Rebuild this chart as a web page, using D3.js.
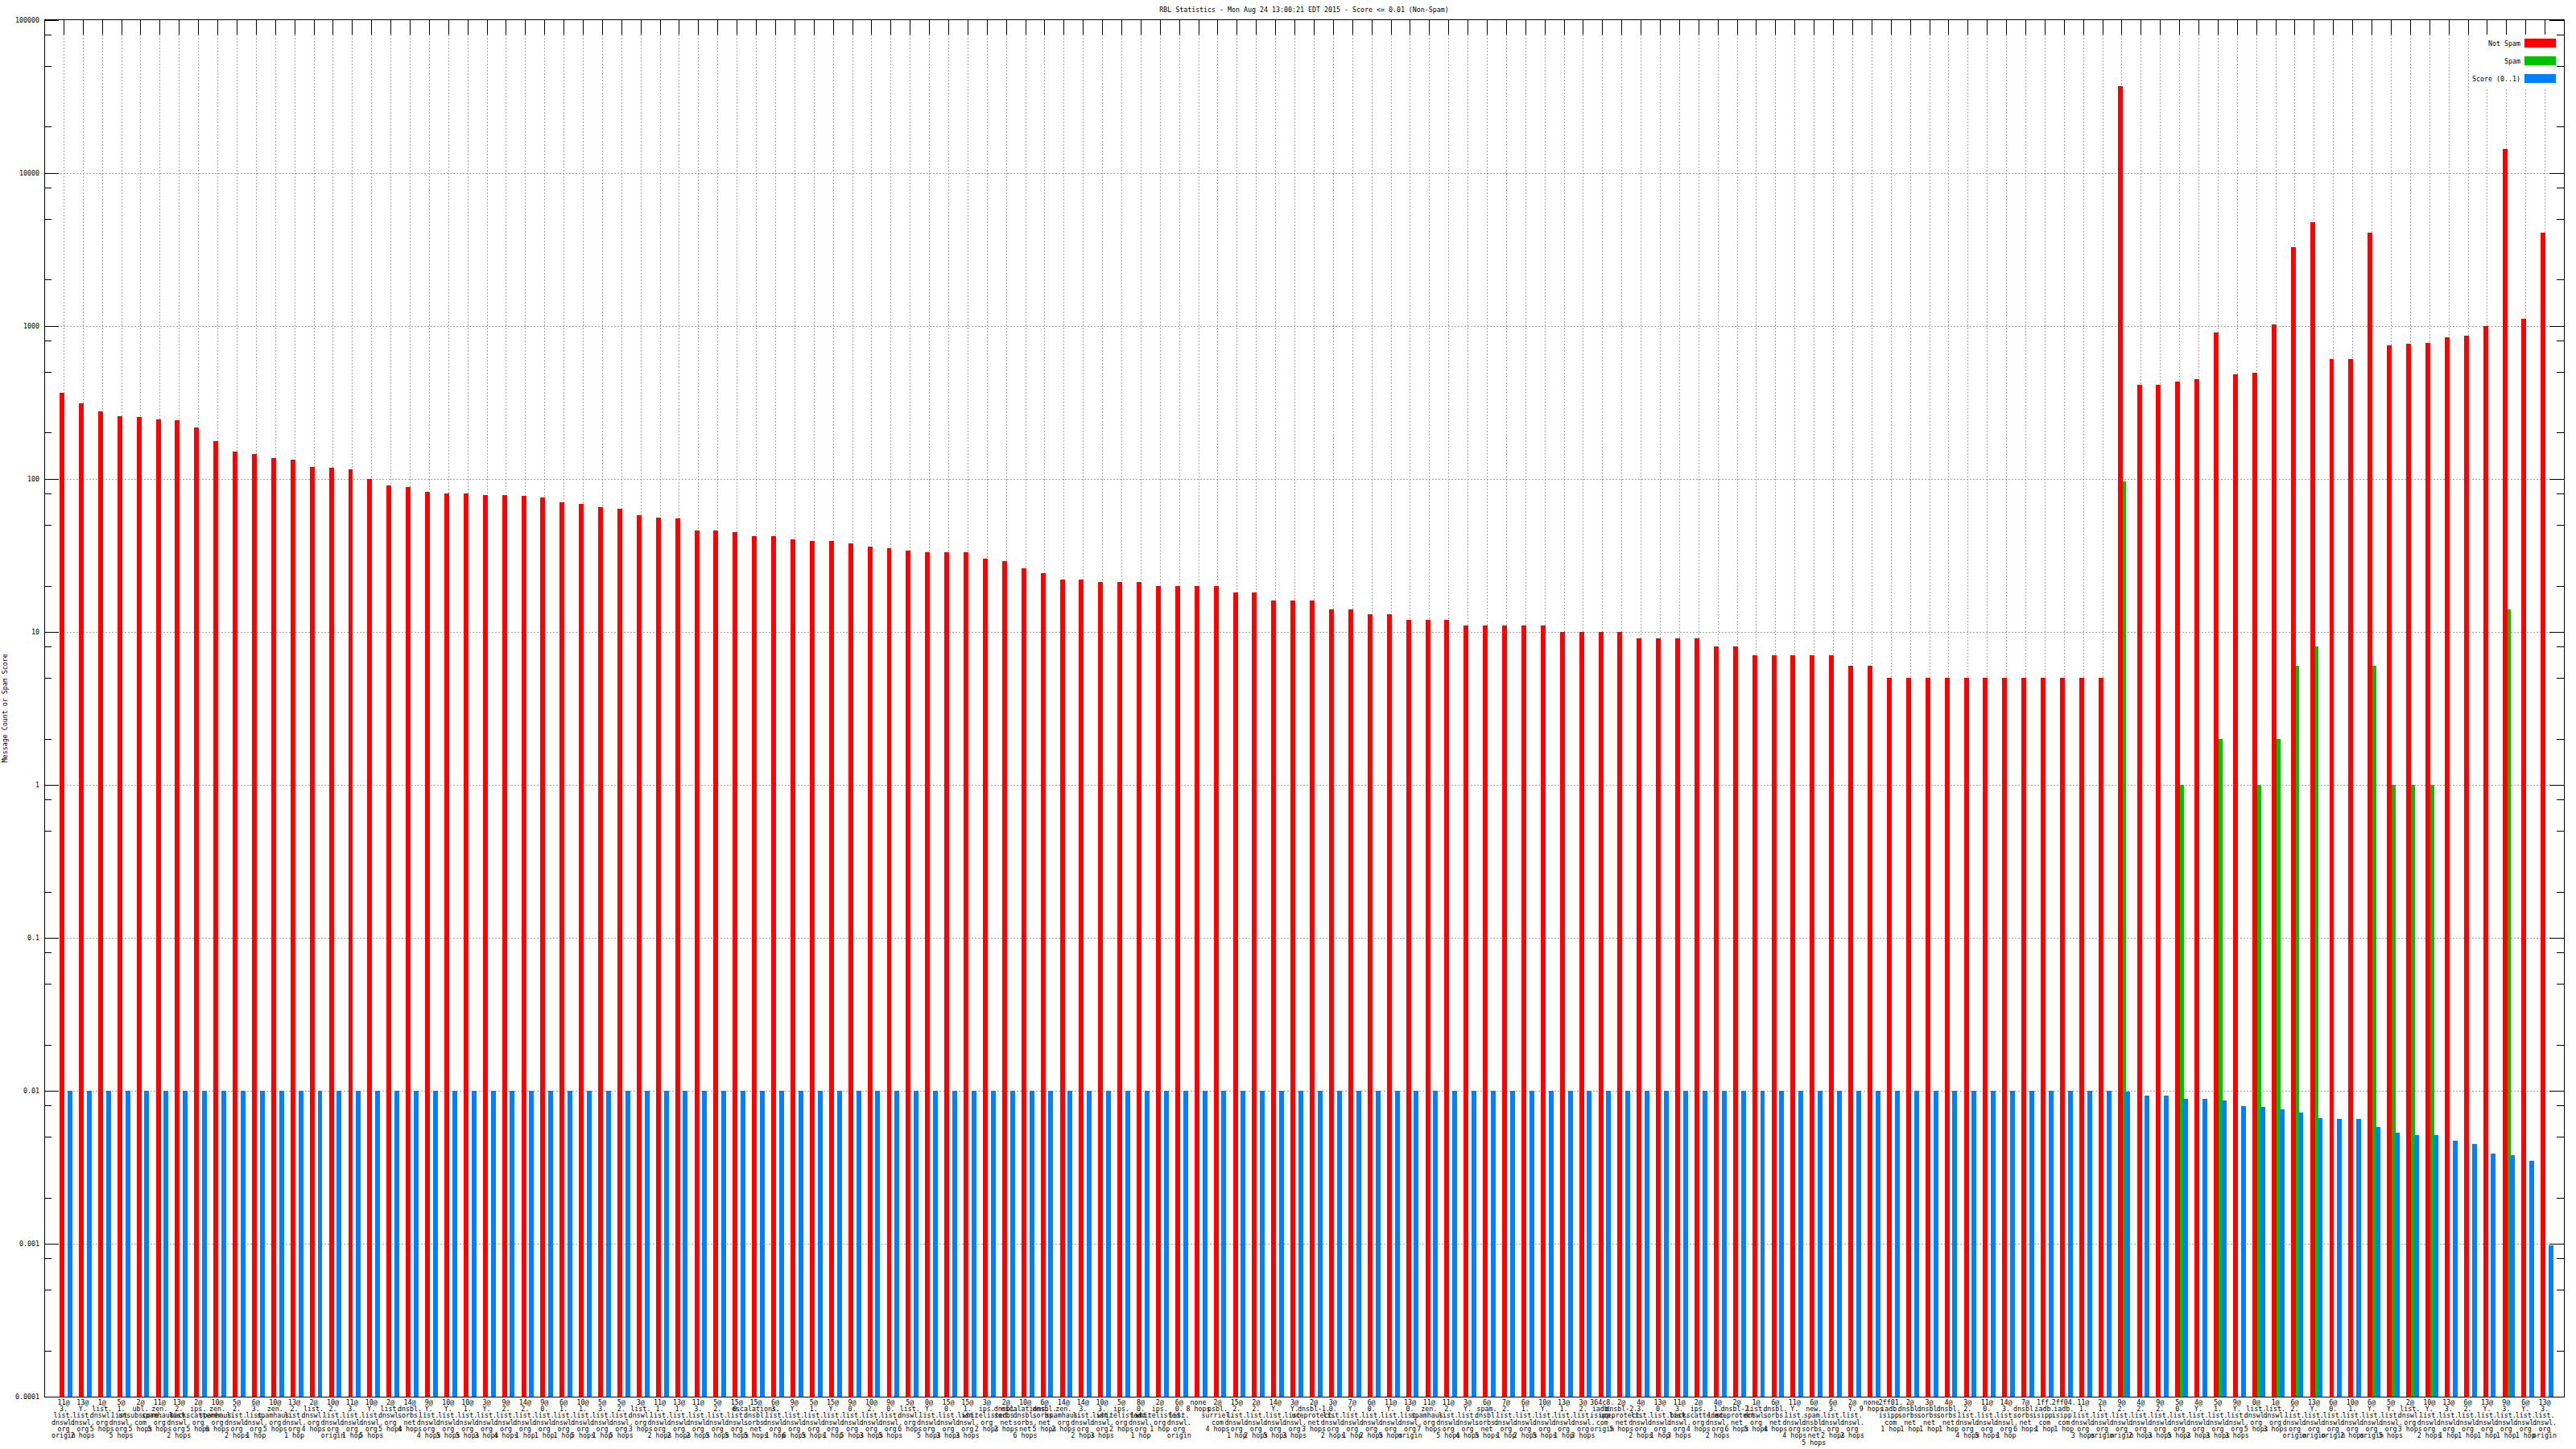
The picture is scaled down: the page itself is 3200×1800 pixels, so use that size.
<!DOCTYPE html>
<html><head><meta charset="utf-8">
<script src="https://cdn.jsdelivr.net/npm/d3@7"></script>
<style>
body{margin:0;background:#fff}
text{font-family:"DejaVu Sans Mono",monospace;font-size:8.3px;fill:#000}
</style>
</head><body><svg id="c" width="3200" height="1800"></svg>
<script>
const title = "RBL Statistics - Mon Aug 24 13:00:21 EDT 2015 - Score <= 0.01 (Non-Spam)";
const yAxisLabel = "Message Count or Spam Score";
const seriesNames = ["Not Spam", "Spam", "Score (0..1)"];
const seriesColors = ["#ff0000", "#00c000", "#0080ff"];
const yTickValues = [100000, 10000, 1000, 100, 10, 1, 0.1, 0.01, 0.001, 0.0001];
const yTickLabels = ["100000", "10000", "1000", "100", "10", "1", "0.1", "0.01", "0.001", "0.0001"];

const categories = [
"11@3.list.dnswl.org|origin","13@Y.list.dnswl.org|2 hops","1@list.dnswl.org|5 hops","5@1.list.dnswl.org|5 hops","2@ubl.unsubscore.com|5 hops",
"11@zen.spamhaus.org|5 hops","13@2.list.dnswl.org|2 hops","2@ips.backscatterer.org|5 hops","10@zen.spamhaus.org|6 hops","5@2.list.dnswl.org|2 hops",
"6@3.list.dnswl.org|1 hop","10@zen.spamhaus.org|5 hops","13@2.list.dnswl.org|1 hop","2@list.dnswl.org|4 hops","10@2.list.dnswl.org|origin",
"11@3.list.dnswl.org|1 hop","10@Y.list.dnswl.org|5 hops","2@list.dnswl.org|5 hops","14@dnsbl.sorbs.net|4 hops","9@Y.list.dnswl.org|4 hops",
"10@Y.list.dnswl.org|5 hops","10@1.list.dnswl.org|5 hops","3@Y.list.dnswl.org|3 hops","9@2.list.dnswl.org|4 hops","14@2.list.dnswl.org|1 hop",
"9@0.list.dnswl.org|1 hop","6@1.list.dnswl.org|1 hop","10@1.list.dnswl.org|5 hops","5@3.list.dnswl.org|1 hop","5@2.list.dnswl.org|5 hops",
"3@list.dnswl.org|3 hops","11@1.list.dnswl.org|2 hops","13@1.list.dnswl.org|2 hops","11@3.list.dnswl.org|2 hops","5@2.list.dnswl.org|5 hops",
"15@0.list.dnswl.org|5 hops","15@escalations.dnsbl.sorbs.net|5 hops","6@3.list.dnswl.org|1 hop","9@Y.list.dnswl.org|6 hops","5@1.list.dnswl.org|5 hops",
"15@Y.list.dnswl.org|1 hop","9@0.list.dnswl.org|5 hops","10@2.list.dnswl.org|3 hops","9@0.list.dnswl.org|5 hops","5@list.dnswl.org|6 hops",
"0@Y.list.dnswl.org|5 hops","15@0.list.dnswl.org|3 hops","15@1.list.dnswl.org|3 hops","3@ips.whitelisted.org|2 hops","2@dnsbl.sorbs.net|2 hops",
"10@escalations.dnsbl.sorbs.net|6 hops","6@dnsbl.sorbs.net|5 hops","14@zen.spamhaus.org|2 hops","14@3.list.dnswl.org|2 hops","10@3.list.dnswl.org|3 hops",
"5@ips.whitelisted.org|2 hops","8@0.list.dnswl.org|1 hop","2@ips.whitelisted.org|1 hop","6@0.list.dnswl.org|origin","none|8 hops",
"2@psbl.surriel.com|4 hops","15@2.list.dnswl.org|1 hop","2@2.list.dnswl.org|2 hops","14@Y.list.dnswl.org|5 hops","3@Y.list.dnswl.org|3 hops",
"2@dnsbl-1.uceprotect.net|3 hops","3@0.list.dnswl.org|2 hops","7@Y.list.dnswl.org|1 hop","6@0.list.dnswl.org|2 hops","11@Y.list.dnswl.org|5 hops",
"13@0.list.dnswl.org|origin","11@zen.spamhaus.org|7 hops","11@2.list.dnswl.org|5 hops","3@Y.list.dnswl.org|4 hops","6@spam.dnsbl.sorbs.net|5 hops",
"7@2.list.dnswl.org|1 hop","6@1.list.dnswl.org|2 hops","10@Y.list.dnswl.org|5 hops","13@1.list.dnswl.org|1 hop","3@2.list.dnswl.org|3 hops",
"364c8.iadb.isipp.com|origin","2@dnsbl-2.uceprotect.net|5 hops","4@3.list.dnswl.org|2 hops","13@0.list.dnswl.org|1 hop","11@3.list.dnswl.org|3 hops",
"2@ips.backscatterer.org|4 hops","4@1.list.dnswl.org|2 hops","2@dnsbl-2.uceprotect.net|6 hops","1@list.dnswl.org|5 hops","6@dnsbl.sorbs.net|4 hops",
"11@Y.list.dnswl.org|4 hops","6@new.spam.dnsbl.sorbs.net|5 hops","6@3.list.dnswl.org|2 hops","2@Y.list.dnswl.org|2 hops","none|9 hops",
"2ff01.iadb.isipp.com|1 hop","2@dnsbl.sorbs.net|1 hop","3@dnsbl.sorbs.net|1 hop","4@dnsbl.sorbs.net|1 hop","3@2.list.dnswl.org|4 hops",
"11@0.list.dnswl.org|5 hops","14@3.list.dnswl.org|1 hop","7@dnsbl.sorbs.net|6 hops","1ff.iadb.isipp.com|1 hop","2ff04.iadb.isipp.com|1 hop",
"11@1.list.dnswl.org|3 hops","2@1.list.dnswl.org|origin","9@2.list.dnswl.org|origin","4@2.list.dnswl.org|2 hops","9@2.list.dnswl.org|3 hops",
"5@0.list.dnswl.org|5 hops","4@Y.list.dnswl.org|2 hops","5@1.list.dnswl.org|3 hops","9@Y.list.dnswl.org|3 hops","0@list.dnswl.org|5 hops",
"1@list.dnswl.org|3 hops","6@2.list.dnswl.org|origin","13@Y.list.dnswl.org|origin","6@0.list.dnswl.org|origin","10@1.list.dnswl.org|2 hops",
"6@Y.list.dnswl.org|origin","5@Y.list.dnswl.org|5 hops","2@list.dnswl.org|3 hops","10@Y.list.dnswl.org|2 hops","13@3.list.dnswl.org|1 hop",
"6@2.list.dnswl.org|1 hop","13@Y.list.dnswl.org|1 hop","9@3.list.dnswl.org|1 hop","6@Y.list.dnswl.org|1 hop","13@3.list.dnswl.org|origin"
];

const notSpam = [
362, 310, 274, 255, 252, 243, 240, 215, 177, 150,
145, 136, 133, 120, 118, 115, 100, 90, 88, 82,
80, 80, 78, 78, 77, 75, 70, 68, 65, 64,
58, 56, 55, 46, 46, 45, 42, 42, 40, 39,
39, 38, 36, 35, 34, 33, 33, 33, 30, 29,
26, 24, 22, 22, 21, 21, 21, 20, 20, 20,
20, 18, 18, 16, 16, 16, 14, 14, 13, 13,
12, 12, 12, 11, 11, 11, 11, 11, 10, 10,
10, 10, 9, 9, 9, 9, 8, 8, 7, 7,
7, 7, 7, 6, 6, 5, 5, 5, 5, 5,
5, 5, 5, 5, 5, 5, 5, 37000, 413, 413,
434, 445, 904, 479, 491, 1020, 3265, 4750, 606, 606,
4060, 745, 763, 773, 841, 861, 1000, 14300, 1110, 4060
];

const spam = [
0, 0, 0, 0, 0, 0, 0, 0, 0, 0,
0, 0, 0, 0, 0, 0, 0, 0, 0, 0,
0, 0, 0, 0, 0, 0, 0, 0, 0, 0,
0, 0, 0, 0, 0, 0, 0, 0, 0, 0,
0, 0, 0, 0, 0, 0, 0, 0, 0, 0,
0, 0, 0, 0, 0, 0, 0, 0, 0, 0,
0, 0, 0, 0, 0, 0, 0, 0, 0, 0,
0, 0, 0, 0, 0, 0, 0, 0, 0, 0,
0, 0, 0, 0, 0, 0, 0, 0, 0, 0,
0, 0, 0, 0, 0, 0, 0, 0, 0, 0,
0, 0, 0, 0, 0, 0, 0, 96, 0, 0,
1, 0, 2, 0, 1, 2, 6, 8, 0, 0,
6, 1, 1, 1, 0, 0, 0, 14, 0, 0
];

const score = [
0.01, 0.01, 0.01, 0.01, 0.01, 0.01, 0.01, 0.01, 0.01, 0.01,
0.01, 0.01, 0.01, 0.01, 0.01, 0.01, 0.01, 0.01, 0.01, 0.01,
0.01, 0.01, 0.01, 0.01, 0.01, 0.01, 0.01, 0.01, 0.01, 0.01,
0.01, 0.01, 0.01, 0.01, 0.01, 0.01, 0.01, 0.01, 0.01, 0.01,
0.01, 0.01, 0.01, 0.01, 0.01, 0.01, 0.01, 0.01, 0.01, 0.01,
0.01, 0.01, 0.01, 0.01, 0.01, 0.01, 0.01, 0.01, 0.01, 0.01,
0.01, 0.01, 0.01, 0.01, 0.01, 0.01, 0.01, 0.01, 0.01, 0.01,
0.01, 0.01, 0.01, 0.01, 0.01, 0.01, 0.01, 0.01, 0.01, 0.01,
0.01, 0.01, 0.01, 0.01, 0.01, 0.01, 0.01, 0.01, 0.01, 0.01,
0.01, 0.01, 0.01, 0.01, 0.01, 0.01, 0.01, 0.01, 0.01, 0.01,
0.01, 0.01, 0.01, 0.01, 0.01, 0.01, 0.01, 0.0099, 0.0093, 0.0093,
0.0089, 0.0089, 0.0086, 0.0079, 0.0078, 0.0076, 0.0072, 0.0066, 0.0065, 0.0065,
0.0058, 0.0053, 0.0051, 0.0051, 0.0047, 0.0045, 0.0039, 0.0038, 0.0035, 0.00098
];

// ---------- drawing ----------
const W = 3200, H = 1800;
const L = 55, R = 3185, T = 24.5, B = 1735;
const svg = d3.select("#c");
svg.append("rect").attr("width", W).attr("height", H).attr("fill", "#fff");

const n = categories.length;
const x = d3.scaleLinear().domain([-1, n]).range([L, R]);
const y = d3.scaleLog().domain([0.0001, 100000]).range([B, T]);

const grid = svg.append("g").attr("stroke", "#a0a0a0").attr("stroke-width", 1)
  .attr("stroke-dasharray", "2,2").attr("shape-rendering", "crispEdges");
yTickValues.slice(1, -1).forEach(v => {
  grid.append("line").attr("x1", L).attr("x2", R).attr("y1", Math.round(y(v)) + 0.5).attr("y2", Math.round(y(v)) + 0.5);
});
d3.range(n).forEach(i => {
  const xx = Math.round(x(i)) + 0.5;
  grid.append("line").attr("x1", xx).attr("x2", xx).attr("y1", T + 18).attr("y2", B);
});

// bars
const offs = [[-0.2, 0.05], [0.05, 0.25], [0.21, 0.46]];
const seriesData = [notSpam, spam, score];
seriesData.forEach((arr, s) => {
  svg.append("g").attr("fill", seriesColors[s]).attr("shape-rendering", "crispEdges")
    .selectAll("rect").data(arr.map((v, i) => ({v, i})).filter(d => d.v > 0))
    .join("rect")
    .attr("x", d => x(d.i + offs[s][0]))
    .attr("width", d => x(d.i + offs[s][1]) - x(d.i + offs[s][0]))
    .attr("y", d => y(d.v))
    .attr("height", d => B - y(d.v));
});

// legend background
svg.append("rect").attr("x", 3068).attr("y", 43).attr("width", R - 3068).attr("height", 67).attr("fill", "#fff");

// border
const ax = svg.append("g").attr("stroke", "#000").attr("stroke-width", 1).attr("shape-rendering", "crispEdges").attr("fill", "none");
ax.append("rect").attr("x", L + 0.5).attr("y", T).attr("width", R - L).attr("height", B - T);

// y ticks both sides
const minor = [];
for (let e = -4; e < 5; e++) [2, 5, 8].forEach(m => minor.push(m * Math.pow(10, e)));
yTickValues.forEach(v => {
  const yy = Math.round(y(v)) + 0.5;
  ax.append("line").attr("x1", L).attr("x2", L + 18).attr("y1", yy).attr("y2", yy);
  ax.append("line").attr("x1", R - 18).attr("x2", R).attr("y1", yy).attr("y2", yy);
});
minor.forEach(v => {
  const yy = Math.round(y(v)) + 0.5;
  ax.append("line").attr("x1", L).attr("x2", L + 9).attr("y1", yy).attr("y2", yy);
  ax.append("line").attr("x1", R - 9).attr("x2", R).attr("y1", yy).attr("y2", yy);
});
// x ticks on top
d3.range(n).forEach(i => {
  const xx = Math.round(x(i)) + 0.5;
  ax.append("line").attr("x1", xx).attr("x2", xx).attr("y1", T).attr("y2", T + 18);
});

// y tick labels
svg.append("g").selectAll("text").data(yTickValues).join("text")
  .attr("x", 49).attr("y", v => y(v) + 3).attr("text-anchor", "end")
  .text((v, k) => yTickLabels[k]);

// x labels
function labelLines(s) {
  const [host, hops] = s.split("|");
  const lines = [];
  let rest = host;
  const at = host.indexOf("@");
  if (at >= 0) { lines.push(host.slice(0, at + 1)); rest = host.slice(at + 1); }
  const parts = rest.split(".");
  parts.forEach((p, k) => lines.push(k < parts.length - 1 ? p + "." : p));
  lines.push(hops);
  return lines;
}
const xl = svg.append("g");
categories.forEach((c, i) => {
  const t = xl.append("text").attr("text-anchor", "middle");
  labelLines(c).forEach((ln, k) => {
    t.append("tspan").attr("x", x(i)).attr("y", 1744.7 + k * 8.33).text(ln);
  });
});

// title
svg.append("text").attr("x", (L + R) / 2).attr("y", 15).attr("text-anchor", "middle").text(title);
// y axis label
svg.append("text").attr("transform", `translate(9,${(T + B) / 2}) rotate(-90)`).attr("text-anchor", "middle").text(yAxisLabel);

// legend
const legY = [53.5, 75.5, 97.5];
seriesNames.forEach((nm, s) => {
  svg.append("text").attr("x", 3131).attr("y", legY[s] + 3).attr("text-anchor", "end").text(nm);
  svg.append("rect").attr("x", 3136).attr("y", legY[s] - 5.5).attr("width", 39).attr("height", 11).attr("fill", seriesColors[s]);
});
</script>
</body></html>
